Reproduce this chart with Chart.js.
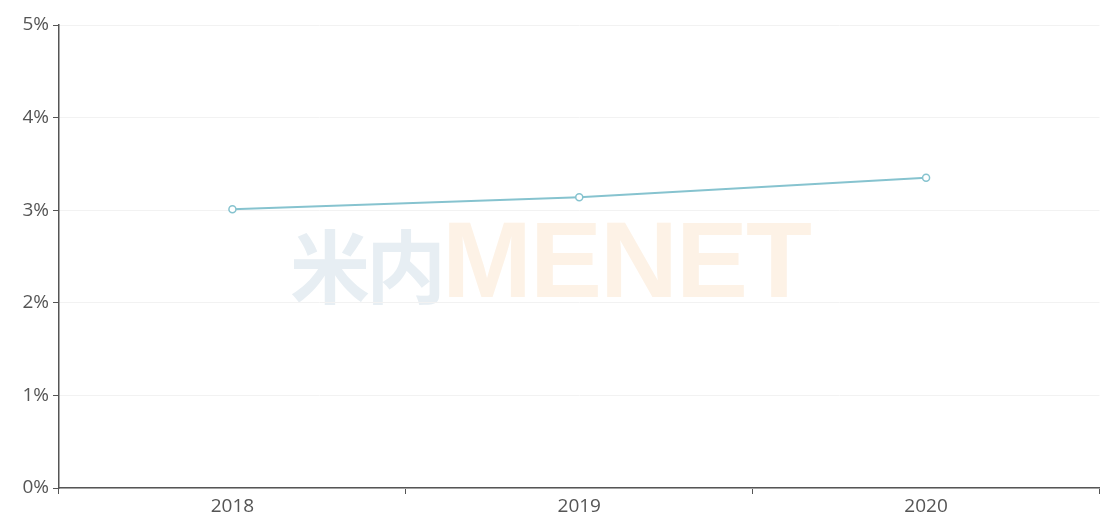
<!DOCTYPE html>
<html>
<head>
<meta charset="utf-8">
<script src="https://cdn.jsdelivr.net/npm/chart.js@4/dist/chart.umd.min.js"></script>
<style>
  html, body { margin: 0; padding: 0; background: #fff; }
  #wrap { position: relative; width: 1105px; height: 523px; }
  #mark {
    position: absolute; left: 290px; top: 206px;
    font-weight: bold; white-space: nowrap; line-height: 1;
  }
  #mark .cn { font-family: "Noto Sans CJK SC", sans-serif; font-size: 80px; color: #e7eef3; letter-spacing: -4px; }
  #mark .en { font-family: "Liberation Sans", Arial, sans-serif; font-size: 108px; color: #fdf2e6; letter-spacing: -2px; }
  canvas { position: absolute; left: 0; top: 0; }
</style>
</head>
<body>
<div id="wrap">
  <div id="mark"><span class="cn">米内</span><span class="en">MENET</span></div>
  <canvas id="chart" width="1105" height="523"></canvas>
</div>
<script>
// data
const years = ["2018", "2019", "2020"];
const rates = [3.01, 3.14, 3.35];
const yTicks = [0, 1, 2, 3, 4, 5];

const axisColor = "#555";
const lineColor = "#86c3cf";

document.addEventListener("DOMContentLoaded", function () {
  const ctx = document.getElementById("chart").getContext("2d");
  new Chart(ctx, {
    type: "line",
    data: {
      labels: years,
      datasets: [
        {
          data: rates,
          borderColor: lineColor,
          borderWidth: 2,
          tension: 0,
          pointRadius: 3.5,
          pointBackgroundColor: "#fff",
          pointBorderColor: lineColor,
          pointBorderWidth: 1.5,
          fill: false,
        },
      ],
    },
    options: {
      responsive: false,
      animation: false,
      layout: { padding: { top: 25, right: 0, left: 0, bottom: 0 } },
      plugins: { legend: { display: false }, tooltip: { enabled: false } },
      scales: {
        x: {
          offset: true,
          border: { color: axisColor, width: 1.5 },
          grid: {
            offset: true,
            drawOnChartArea: false,
            tickLength: 6,
            tickColor: axisColor,
          },
          ticks: { color: "#555", font: { size: 19, family: "'Open Sans', sans-serif" }, padding: 1 },
          afterFit: (scale) => { scale.height = 35; },
        },
        y: {
          min: yTicks[0],
          max: yTicks[yTicks.length - 1],
          afterBuildTicks: (scale) => { scale.ticks = yTicks.map((v) => ({ value: v })); },
          border: { color: axisColor, width: 1.5 },
          grid: { color: "#f2f2f2", tickLength: 6, tickColor: axisColor },
          ticks: {
            color: "#555",
            font: { size: 19, family: "'Open Sans', sans-serif" },
            padding: 4,
            callback: (v) => v + "%",
          },
          afterFit: (scale) => { scale.width = 59; },
        },
      },
    },
  });
});
</script>
</body>
</html>
